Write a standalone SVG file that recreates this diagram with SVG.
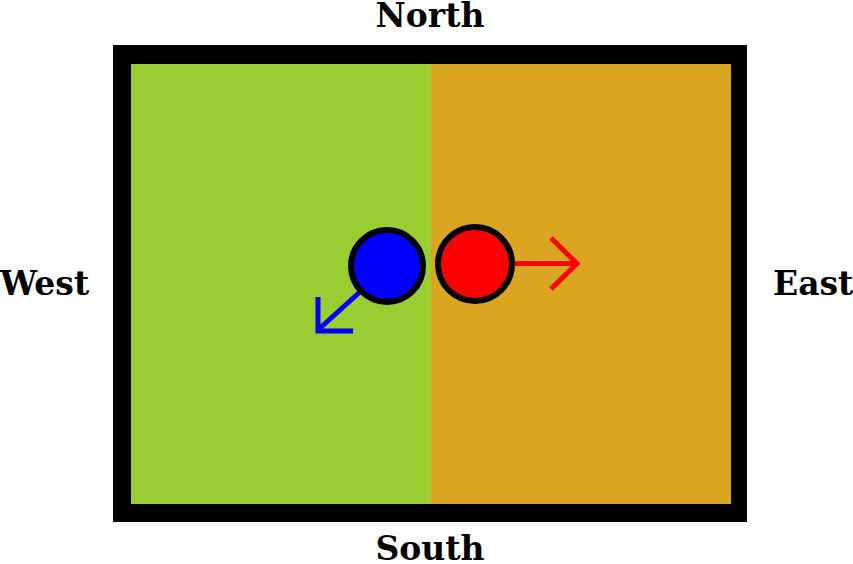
<svg xmlns="http://www.w3.org/2000/svg" width="853" height="564" viewBox="0 0 853 564">
<style>
.lbl{font-family:"DejaVu Serif",serif;font-weight:bold;font-size:33px;fill:#000}
.ball{stroke:#000;stroke-width:6}
</style>
<rect width="853" height="564" fill="#fff"/>
<g id="field">
<rect x="113" y="45" width="634" height="477" fill="#000"/>
<rect x="131" y="64" width="300" height="440" fill="#9acd32"/>
<rect x="431" y="64" width="300" height="440" fill="#daa520"/>
</g>
<g id="labels">
<text class="lbl" x="430" y="27" text-anchor="middle">North</text>
<text class="lbl" x="430" y="560" text-anchor="middle">South</text>
<text class="lbl" x="0" y="295">West</text>
<text class="lbl" x="773" y="295">East</text>
</g>
<g id="connectors" fill="none" stroke-width="5">
<path d="M515 263.5H578M551 238L577 263.5L551 289" stroke="#f00"/>
<path d="M361 291L319 329M318 297V331H353" stroke="#00f"/>
</g>
<g id="blue"><circle class="ball" cx="387" cy="266" r="36" fill="#00f"/></g>
<g id="red"><circle class="ball" cx="475" cy="264" r="37" fill="#f00"/></g>
</svg>
